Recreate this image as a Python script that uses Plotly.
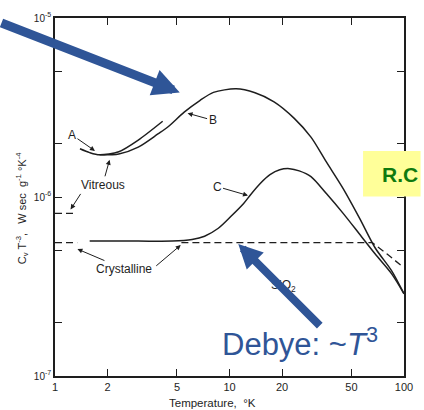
import plotly.graph_objects as go

# ---------------- data ----------------
A_T = [1.39, 1.58, 1.80, 2.32, 3.0, 4.14]
A_C = [1.86e-6, 1.77e-6, 1.72e-6, 1.79e-6, 2.08e-6, 2.65e-6]

B_T = [1.80, 2.32, 3.0, 3.89, 4.43, 5.5, 6.76, 8.09, 10.9, 14.0, 18.0,
       23.5, 29.3, 35.9, 44.8, 55.7, 68.4, 85, 100]
B_C = [1.72e-6, 1.74e-6, 1.90e-6, 2.25e-6, 2.46e-6, 2.98e-6, 3.46e-6, 3.84e-6,
       4.02e-6, 3.82e-6, 3.40e-6, 2.75e-6, 2.16e-6, 1.57e-6, 1.115e-6, 7.6e-7,
       5.19e-7, 3.87e-7, 2.88e-7]

C_T = [1.58, 3.0, 4.7, 6.1, 7.2, 8.63, 10.2, 12.05, 13.2, 15.0, 17.06, 19.4,
       22.1, 25.1, 29.3, 35.9, 44.8, 55.7, 68.4, 85, 100]
C_C = [5.67e-7, 5.67e-7, 5.67e-7, 5.79e-7, 6.04e-7, 6.69e-7, 7.8e-7, 9.2e-7,
       1.03e-6, 1.19e-6, 1.333e-6, 1.42e-6, 1.44e-6, 1.40e-6, 1.30e-6, 1.045e-6,
       8.1e-7, 6.19e-7, 4.8e-7, 3.72e-7, 2.88e-7]

DEBYE_T = [1.0, 1.34, None, 5.3, 65.8, 80, 97]
DEBYE_C = [5.56e-7, 5.56e-7, None, 5.56e-7, 5.56e-7, 4.8e-7, 4.12e-7]

VIT0_T = [1.0, 1.3]
VIT0_C = [8.1e-7, 8.1e-7]

X_TICKS = [1, 2, 5, 10, 20, 50, 100]
X_TICKTEXT = ["1", "2", "5", "10", "20", "50", "100"]
Y_TICKS = [1e-7, 1e-6, 1e-5]
Y_TICKTEXT = ["10<sup>-7</sup>", "10<sup>-6</sup>", "10<sup>-5</sup>"]
Y_MINOR = [2e-7, 5e-7, 2e-6, 5e-6]

# ---------------- layout geometry ----------------
W, H = 424, 410
L, R, T, B = 55, 11, 15, 34
PW, PH = W - L - R, H - T - B

def pp(px, py):
    return (px - L) / PW, (H - B - py) / PH

INK = "#1e1e1e"
BLUE = "#2F5597"
FONT = "Liberation Sans"

fig = go.Figure()
line = dict(color=INK, width=1.5, shape="spline", smoothing=0.8)
fig.add_trace(go.Scatter(x=A_T, y=A_C, mode="lines", line=line, name="A"))
fig.add_trace(go.Scatter(x=B_T, y=B_C, mode="lines", line=line, name="B"))
fig.add_trace(go.Scatter(x=C_T, y=C_C, mode="lines", line=line, name="C"))
fig.add_trace(go.Scatter(x=DEBYE_T, y=DEBYE_C, mode="lines", connectgaps=False,
                         line=dict(color=INK, width=1.3, dash="7px,4px"), name="Debye"))
fig.add_trace(go.Scatter(x=VIT0_T, y=VIT0_C, mode="lines",
                         line=dict(color=INK, width=1.3, dash="7px,4px"), name="Vitreous T->0"))

ann = []

def label(text, tx, ty, hx=None, hy=None, size=12, **kw):
    if hx is None:
        x, y = pp(tx, ty)
        ann.append(dict(text=text, x=x, y=y, xref="paper", yref="paper",
                        xanchor="center", yanchor="middle",
                        showarrow=False, font=dict(family=FONT, size=size, color=INK), **kw))
    else:
        x, y = pp(hx, hy)
        ann.append(dict(text=text, x=x, y=y, xref="paper", yref="paper",
                        ax=tx - hx, ay=ty - hy, showarrow=True, arrowhead=2,
                        arrowsize=1, arrowwidth=1, arrowcolor=INK, standoff=0,
                        font=dict(family=FONT, size=size, color=INK), **kw))

label("A", 73, 133, 96, 149)
label("B", 216, 118, 191, 111)
label("C", 222, 185, 253, 194)
label("Vitreous", 104, 183, 111, 158)
label("", 82, 191, 71, 208)
label("Crystalline", 125, 268, 78, 248)
label("", 158, 266, 184, 244)
label("SiO<sub>2</sub>", 289, 285)

# axis titles
x, y = pp(217, 403)
ann.append(dict(text="Temperature,  °K", x=x, y=y, xref="paper", yref="paper",
                xanchor="center", yanchor="middle",
                showarrow=False, font=dict(family=FONT, size=11.5, color=INK)))
x, y = pp(22, 207)
ann.append(dict(text="C<sub>v</sub> T<sup>-3</sup>,   W sec  g<sup>-1</sup> °K<sup>-4</sup>",
                x=x, y=y, xref="paper", yref="paper", textangle=-90,
                xanchor="center", yanchor="middle",
                showarrow=False, font=dict(family=FONT, size=11, color=INK)))

# blue arrows
x, y = pp(183, 90)
ann.append(dict(text="", x=x, y=y, xref="paper", yref="paper", ax=0 - 183, ay=20 - 90,
                showarrow=True, arrowhead=2, arrowsize=0.6, arrowwidth=9,
                arrowcolor=BLUE, standoff=0))
x, y = pp(243, 243)
ann.append(dict(text="", x=x, y=y, xref="paper", yref="paper", ax=326 - 243, ay=326 - 243,
                showarrow=True, arrowhead=2, arrowsize=0.6, arrowwidth=8,
                arrowcolor=BLUE, standoff=0))
x, y = pp(224, 342)
ann.append(dict(text="Debye: ~<i>T</i><sup>3</sup>", x=x, y=y, xref="paper", yref="paper",
                xanchor="left", yanchor="middle", showarrow=False,
                font=dict(family=FONT, size=31, color=BLUE)))

# yellow box
x0, y0 = pp(371, 195)
x1, y1 = pp(430, 149)
fig.add_shape(type="rect", xref="paper", yref="paper", x0=x0, y0=y0, x1=x1, y1=y1,
              fillcolor="#FFFF99", line=dict(width=0), layer="above")
x, y = pp(388, 173)
ann.append(dict(text="<b>R.C</b>", x=x, y=y, xref="paper", yref="paper",
                xanchor="left", yanchor="middle", showarrow=False,
                font=dict(family=FONT, size=21, color="#0F7A0F")))

fig.update_layout(
    width=W, height=H, margin=dict(l=L, r=R, t=T, b=B),
    paper_bgcolor="white", plot_bgcolor="white", showlegend=False,
    annotations=ann,
    font=dict(family=FONT, color=INK),
)
fig.update_xaxes(type="log", range=[0, 2], tickvals=X_TICKS, ticktext=X_TICKTEXT,
                 ticks="inside", ticklen=7, tickwidth=1.2, tickcolor=INK,
                 showline=True, linewidth=1.6, linecolor=INK, mirror="ticks",
                 showgrid=False, zeroline=False,
                 tickfont=dict(family=FONT, size=11, color=INK))
fig.update_yaxes(type="log", range=[-7, -5], tickvals=Y_TICKS, ticktext=Y_TICKTEXT,
                 ticks="inside", ticklen=7, tickwidth=1.2, tickcolor=INK,
                 minor=dict(tickvals=Y_MINOR, ticks="inside", ticklen=7, tickwidth=1.2,
                            tickcolor=INK, showgrid=False),
                 showline=True, linewidth=1.6, linecolor=INK, mirror="ticks",
                 showgrid=False, zeroline=False,
                 tickfont=dict(family=FONT, size=10, color=INK))

fig.write_html("out.html", config={"displayModeBar": False},
               post_script="document.body.style.margin='0px';")
